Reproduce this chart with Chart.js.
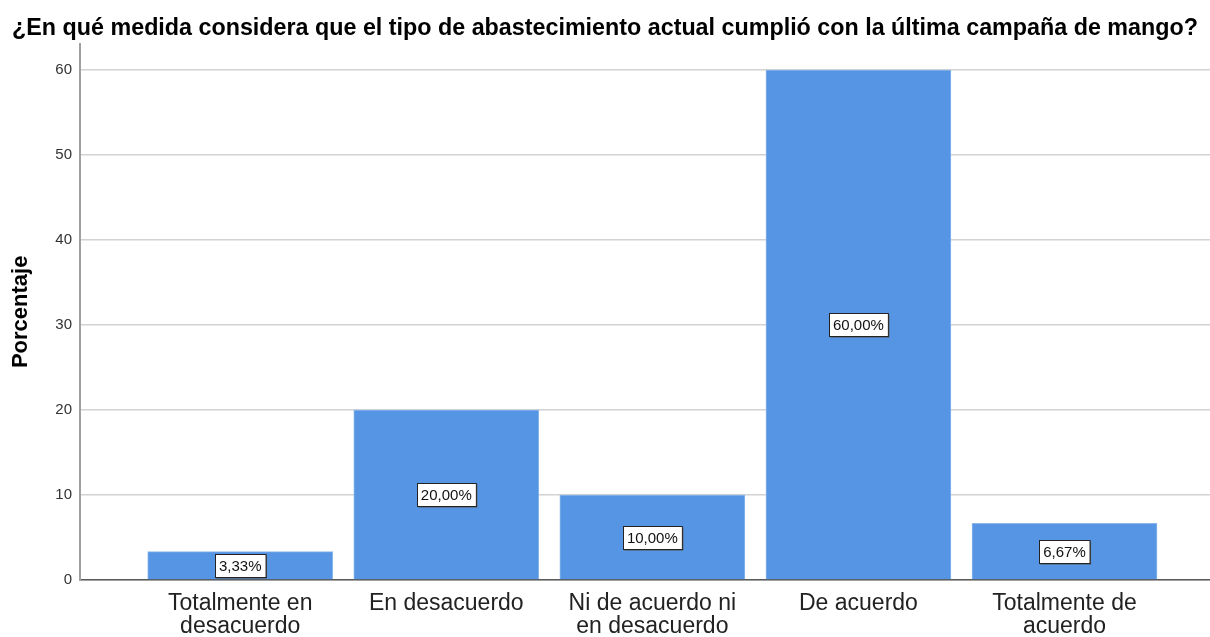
<!DOCTYPE html>
<html lang="es">
<head>
<meta charset="utf-8">
<title>Abastecimiento - campaña de mango</title>
<script src="https://cdn.jsdelivr.net/npm/chart.js@4.4.1/dist/chart.umd.min.js"></script>
<style>
    html, body { margin: 0; padding: 0; background: #ffffff; }
    #chart { display: block; }
</style>
</head>
<body>
<canvas id="chart" width="1210" height="637"></canvas>
<script>
// Data
const categories = ['Totalmente en desacuerdo', 'En desacuerdo', 'Ni de acuerdo ni en desacuerdo', 'De acuerdo', 'Totalmente de acuerdo'];
const tickLabels = [
    ['Totalmente en', 'desacuerdo'],
    ['En desacuerdo'],
    ['Ni de acuerdo ni', 'en desacuerdo'],
    ['De acuerdo'],
    ['Totalmente de', 'acuerdo']
];
const percentages = [3.33, 20.00, 10.00, 60.00, 6.67];
const yTicks = [0, 10, 20, 30, 40, 50, 60];

const titleText = '¿En qué medida considera que el tipo de abastecimiento actual cumplió con la última campaña de mango?';
const yTitle = 'Porcentaje';

// Colors
const barColor = '#5595e3';
const fontFamily = 'Arial, "Liberation Sans", sans-serif';

// Value boxes drawn in the middle of each bar
const valueBoxes = {
    id: 'valueBoxes',
    afterDatasetsDraw(chart) {
        const ctx = chart.ctx;
        const yScale = chart.scales.y;
        const meta = chart.getDatasetMeta(0);
        ctx.save();
        ctx.font = '15px ' + fontFamily;
        ctx.textAlign = 'center';
        ctx.textBaseline = 'middle';
        meta.data.forEach((bar, i) => {
            const value = percentages[i];
            const text = value.toFixed(2).replace('.', ',') + '%';
            const cx = bar.x;
            const cy = yScale.getPixelForValue(value / 2);
            const w = ctx.measureText(text).width + 8;
            const h = 23;
            const x0 = Math.round(cx - w / 2) + 0.5;
            const y0 = Math.round(cy - h / 2) + 0.5;
            // shadow
            ctx.fillStyle = '#555555';
            ctx.fillRect(x0 + 1, y0 + 1, w, h);
            ctx.fillStyle = '#ffffff';
            ctx.fillRect(x0, y0, w, h);
            ctx.strokeStyle = '#222222';
            ctx.lineWidth = 1;
            ctx.strokeRect(x0, y0, w, h);
            ctx.fillStyle = '#111111';
            ctx.fillText(text, cx, cy + 1);
        });
        ctx.restore();
    }
};

// Build chart
function drawChart() {
    const ctx = document.getElementById('chart').getContext('2d');
    new Chart(ctx, {
        type: 'bar',
        data: {
            datasets: [{
                label: yTitle,
                data: percentages.map((v, i) => ({ x: i + 1, y: v })),
                backgroundColor: barColor,
                borderColor: '#8ab6ec',
                borderWidth: 1,
                barThickness: 185
            }]
        },
        options: {
            responsive: false,
            animation: false,
            layout: { padding: 0 },
            plugins: {
                legend: { display: false },
                tooltip: { enabled: false },
                title: {
                    display: true,
                    text: titleText,
                    color: '#000000',
                    font: { family: fontFamily, size: 23.3, weight: 'bold', lineHeight: 1.1 },
                    padding: { top: 16, bottom: 2 }
                }
            },
            scales: {
                x: {
                    type: 'linear',
                    min: 0.2226,
                    max: 5.706,
                    offset: false,
                    grid: { display: false, drawTicks: false },
                    border: { display: true, color: '#5a5a5a', width: 1.5 },
                    afterBuildTicks: scale => {
                        scale.ticks = categories.map((c, i) => ({ value: i + 1 }));
                    },
                    afterFit: scale => { scale.height = 57; },
                    ticks: {
                        autoSkip: false,
                        maxRotation: 0,
                        padding: 12.5,
                        color: '#222222',
                        font: { family: fontFamily, size: 23, lineHeight: 1.0 },
                        callback: value => tickLabels[Math.round(value) - 1] || ''
                    }
                },
                y: {
                    min: 0,
                    max: 63.1,
                    afterBuildTicks: scale => {
                        scale.ticks = yTicks.map(v => ({ value: v }));
                    },
                    afterFit: scale => { scale.width = 80; },
                    grid: { color: '#d2d2d2', lineWidth: 1.5, drawTicks: false },
                    border: { display: true, color: '#a0a0a0', width: 2 },
                    ticks: {
                        padding: 8,
                        color: '#333333',
                        font: { family: fontFamily, size: 15 }
                    },
                    title: {
                        display: true,
                        text: yTitle,
                        color: '#000000',
                        font: { family: fontFamily, size: 22, weight: 'bold' },
                        padding: { top: 8, bottom: 0 }
                    }
                }
            }
        },
        plugins: [valueBoxes]
    });
}

drawChart();
</script>
</body>
</html>
